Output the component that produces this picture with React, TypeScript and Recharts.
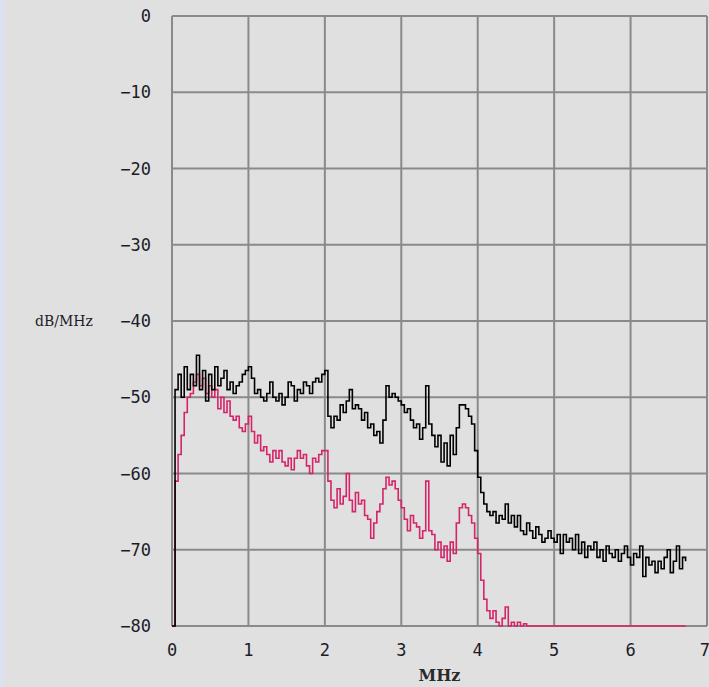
import { LineChart, Line, XAxis, YAxis, CartesianGrid } from 'recharts';

// sampling step of the analyser trace, MHz
const STEP_MHZ = 0.04;

const X_TICKS = [0, 1, 2, 3, 4, 5, 6, 7];
const Y_TICKS = [0, -10, -20, -30, -40, -50, -60, -70, -80];

// upper (black) trace, dB/MHz
const BLACK = [
  -80, -49, -47, -50, -46, -49, -47, -48.5, -44.5, -49,
  -46.5, -50.5, -47, -49, -46, -48.5, -47.5, -46.5, -49, -48,
  -49.5, -48.5, -48, -47, -46.5, -46, -47.5, -49.5, -49, -50,
  -50.5, -49.5, -48, -50, -50.5, -49.5, -51, -50, -48, -48.5,
  -50.5, -49, -49.5, -48, -48.5, -49.5, -48, -47.5, -48, -47,
  -46.5, -52.5, -54, -52.5, -53, -51, -52, -50.5, -49, -51.5,
  -51, -51.5, -53, -52, -54, -53.5, -55, -54.5, -56, -53,
  -48.5, -50, -49.5, -50, -50.5, -51, -52, -51.5, -53, -54,
  -53.5, -55.5, -54, -48.5, -53.5, -55, -56.5, -55, -58.5, -56,
  -59, -55, -57.5, -54, -51, -51, -51.5, -52.5, -53.5, -57,
  -60.5, -62.5, -64, -65, -65.5, -65, -66.5, -65.5, -66, -64,
  -66.5, -65.5, -67, -65.5, -67.5, -68, -66.5, -67.5, -68.5, -67,
  -68, -69, -68.5, -67.5, -68.5, -69, -68, -70.5, -68, -69,
  -68.5, -70, -68, -70.5, -69, -71, -69.5, -70, -69, -71,
  -70, -71.5, -69.5, -70.5, -71, -70, -71.5, -70.5, -69.5, -71,
  -72, -70.5, -71, -69.5, -73.5, -71, -72, -71.5, -73, -71.5,
  -72.5, -71, -70, -73, -71.5, -69.5, -72.5, -71, -71.5,
];

// lower (magenta) trace, dB/MHz
const PINK = [
  -80, -61, -57.5, -55, -52, -50, -49.5, -48, -47, -48.5,
  -47.5, -49.5, -48.5, -50, -49, -51.5, -50, -52, -50.5, -52.5,
  -53, -52.5, -54, -54.5, -53.5, -52.5, -54.5, -56, -55, -57,
  -56.5, -57.5, -58.5, -57, -58, -57, -58.5, -59, -58, -59.5,
  -58, -57, -58, -57.5, -59, -60, -58, -58.5, -57.5, -57,
  -57, -61, -63.5, -64.5, -62, -64, -63, -60, -63.5, -65,
  -62.5, -64, -63.5, -65.5, -66, -68.5, -66.5, -65, -64, -62,
  -60.5, -61.5, -61, -62, -63.5, -64.5, -66, -67.5, -65.5, -66.5,
  -67, -68.5, -67.5, -61, -67.5, -68, -70, -69, -71, -69.5,
  -71.5, -69, -70.5, -66.5, -64.5, -64, -64.5, -65.5, -66.5, -68.5,
  -70.5, -74, -76.5, -78, -79, -78, -79.5, -80, -79, -77.5,
  -80, -79.5, -80, -79.5, -80, -79.7, -80, -80, -80, -80,
  -80, -80, -80, -80, -80, -80, -80, -80, -80, -80,
  -80, -80, -80, -80, -80, -80, -80, -80, -80, -80,
  -80, -80, -80, -80, -80, -80, -80, -80, -80, -80,
  -80, -80, -80, -80, -80, -80, -80, -80, -80, -80,
  -80, -80, -80, -80, -80, -80, -80, -80, -80,
];

const rows = BLACK.map((b, i) => ({
  f: +(i * STEP_MHZ).toFixed(2),
  black: b,
  pink: PINK[i],
}));

const tickFont = {
  fontFamily: '"DejaVu Sans Mono", monospace',
  fontSize: 17,
  fill: '#1c1c28',
};

// the analyser prints a long minus sign
const fmtDb = (v: number) => String(v).replace('-', '\u2212');

export default function App() {
  return (
    <div
      style={{
        position: 'absolute',
        left: 0,
        top: 0,
        width: 709,
        height: 687,
        background: '#e0e0e0',
        borderLeft: '4px solid #dbe3f2',
        boxSizing: 'border-box',
      }}
    >
      <LineChart
        width={705}
        height={687}
        data={rows}
        margin={{ top: 16, right: 2, bottom: 0, left: 31 }}
      >
        <CartesianGrid stroke="#8a8a8a" strokeWidth={2} />
        <XAxis
          dataKey="f"
          type="number"
          domain={[0, 7]}
          ticks={X_TICKS}
          axisLine={false}
          tickLine={false}
          tickMargin={12}
          height={61}
          tick={tickFont}
          label={{
            value: 'MHz',
            position: 'insideBottom',
            offset: 6,
            style: {
              fontFamily: '"DejaVu Serif", serif',
              fontSize: 16,
              fontWeight: 'bold',
              fill: '#2a2a2a',
            },
          }}
        />
        <YAxis
          type="number"
          domain={[-80, 0]}
          ticks={Y_TICKS}
          tickFormatter={fmtDb}
          axisLine={false}
          tickLine={false}
          tickMargin={15}
          width={137}
          tick={tickFont}
          label={{
            value: 'dB/MHz',
            position: 'insideLeft',
            offset: 0,
            style: {
              fontFamily: '"DejaVu Serif", serif',
              fontSize: 14,
              fill: '#1c1c28',
              textAnchor: 'start',
            },
          }}
        />
        <Line
          type="stepAfter"
          dataKey="pink"
          stroke="#d6246a"
          strokeWidth={1.6}
          dot={false}
          isAnimationActive={false}
        />
        <Line
          type="stepAfter"
          dataKey="black"
          stroke="#000000"
          strokeWidth={1.6}
          dot={false}
          isAnimationActive={false}
        />
      </LineChart>
    </div>
  );
}
